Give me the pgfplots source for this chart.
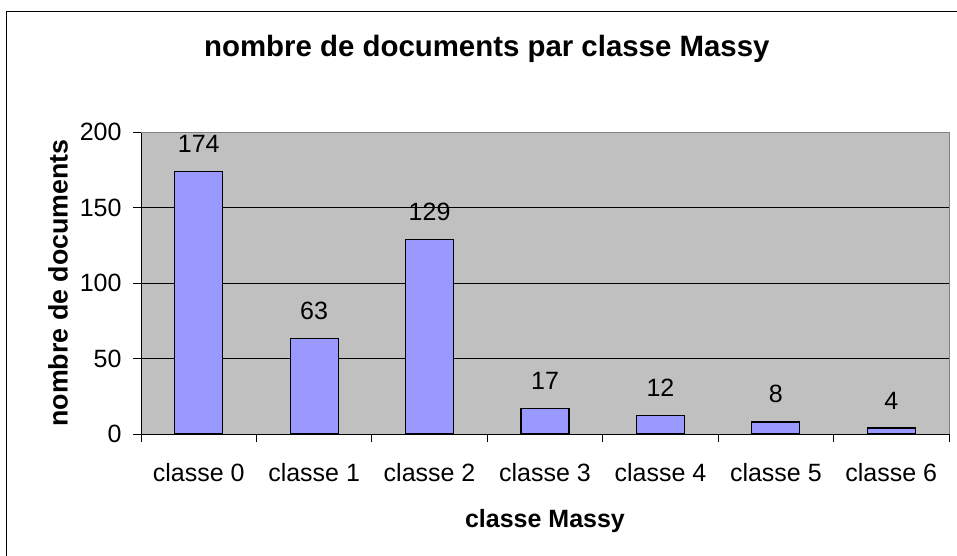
\documentclass[border=0pt]{standalone}
\usepackage{pgfplots}
\pgfplotsset{compat=1.18}
\usepackage{fontspec}
\setmainfont{Liberation Sans}
\definecolor{plotgray}{HTML}{C0C0C0}
\definecolor{barblue}{HTML}{9999FF}
\definecolor{edgegray}{HTML}{808080}
\begin{document}
\begin{tikzpicture}[x=1pt,y=1pt]
\useasboundingbox (-141,-122) rectangle (816,434);
\draw[black, line width=1pt] (-134,422) rectangle (825,-130);
\begin{axis}[
  at={(0,0)}, anchor=south west,
  scale only axis, width=808pt, height=302pt,
  xmin=-0.5, xmax=6.5, ymin=0, ymax=200,
  axis background/.style={fill=plotgray},
  axis lines*=left, axis line style={black, line width=0.8pt, -},
  xtick={0,1,2,3,4,5,6},
  xticklabels={classe 0,classe 1,classe 2,classe 3,classe 4,classe 5,classe 6},
  major x tick style={draw=none},
  minor xtick={-0.5,0.5,1.5,2.5,3.5,4.5,5.5,6.5},
  minor x tick style={black, line width=0.8pt},
  minor tick length=8pt,
  ytick={0,50,100,150,200},
  major tick length=8pt,
  tick align=outside,
  ymajorgrids, grid style={black, line width=0.6pt},
  y tick style={black, line width=0.8pt},
  tick label style={font=\fontsize{25}{28}\selectfont},
  xticklabel style={anchor=north, yshift=-18pt},
  yticklabel style={xshift=-8pt},
  /pgf/number format/assume math mode=true,
  ybar, bar width=48pt,
  nodes near coords,
  every node near coord/.style={font=\fontsize{25}{28}\selectfont, black, yshift=15pt},
  title={nombre de documents par classe Massy},
  title style={font=\fontsize{29.4}{32}\selectfont\bfseries, at={(axis description cs:0.428,1.255)}, anchor=center},
  xlabel={classe Massy},
  xlabel style={font=\fontsize{25}{28}\selectfont\bfseries, at={(axis description cs:0.5,-0.288)}, anchor=center},
  ylabel={nombre de documents},
  ylabel style={font=\fontsize{26.8}{28}\selectfont\bfseries, at={(axis description cs:-0.1027,0.5)}, anchor=center},
  clip=false,
]
\addplot[fill=barblue, draw=black, line width=1.2pt] coordinates {(0,174) (1,63) (2,129) (3,17) (4,12) (5,8) (6,4)};
\draw[edgegray, line width=0.8pt] (rel axis cs:0,1) -- (rel axis cs:1,1) -- (rel axis cs:1,0);
\end{axis}
\end{tikzpicture}
\end{document}
